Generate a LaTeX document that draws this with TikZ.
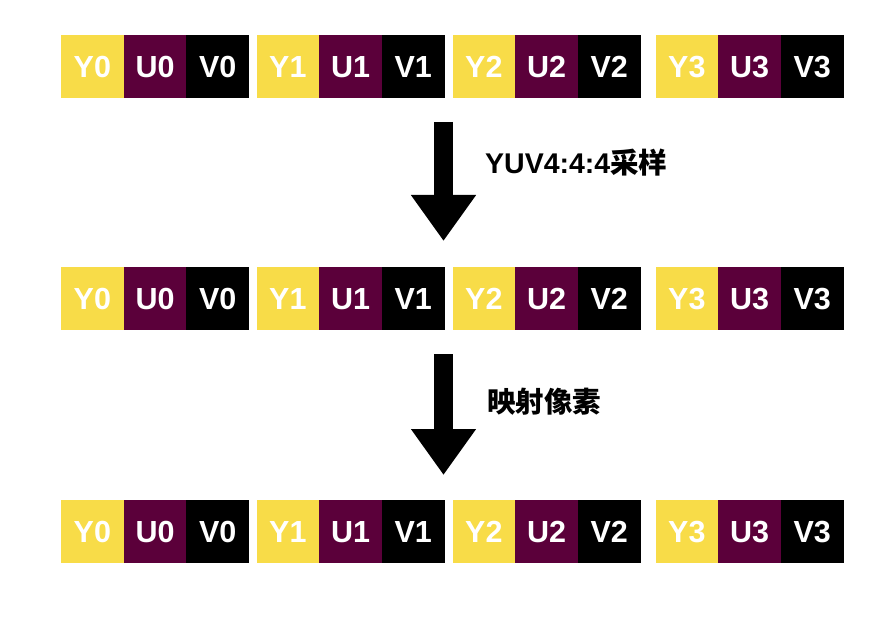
\documentclass[tikz,border=0pt]{standalone}
\usepackage{fontspec}
\setmainfont{Liberation Sans}
\newfontfamily\cjk{Noto Sans CJK SC}
\usetikzlibrary{arrows.meta}
\definecolor{ycol}{HTML}{F8DC48}
\definecolor{ucol}{HTML}{5B003A}
\definecolor{vcol}{HTML}{000000}
\tikzset{
  cell/.style={anchor=north west, minimum width=62.7pt, minimum height=63pt, inner sep=0pt, outer sep=0pt,
    text=white, font=\fontsize{30.5}{32}\selectfont\bfseries, text height=22pt, text depth=0pt},
  ycell/.style={cell, fill=ycol},
  ucell/.style={cell, fill=ucol},
  vcell/.style={cell, fill=vcol},
  bigarrow/.style={line width=19pt, -{Triangle[width=62pt,length=46pt]}},
  lbl/.style={anchor=west, inner sep=0pt, font=\fontsize{28.5}{30}\selectfont\bfseries}
}
\begin{document}
\begin{tikzpicture}[x=1pt,y=-1pt]
\useasboundingbox (0,0) rectangle (890,636);
\foreach \r/\ty in {1/35,2/267,3/500}{
  \foreach \g/\gx in {0/61,1/256.5,2/452.5,3/655.5}{
    \node[ycell] (y\g r\r) at (\gx,\ty) {Y\g};
    \node[ucell] (u\g r\r) at (\gx+62.67,\ty) {U\g};
    \node[vcell] (v\g r\r) at (\gx+125.33,\ty) {V\g};
  }
}
\coordinate (a1s) at (443.5,122);
\coordinate (a1e) at (443.5,241);
\coordinate (a2s) at (443.5,354);
\coordinate (a2e) at (443.5,475);
\draw[bigarrow] (a1s) -- (a1e);
\draw[bigarrow] (a2s) -- (a2e);
\node[lbl] (l1) at (485,163) {YUV4:4:4{\cjk 采样}};
\node[lbl] (l2) at (487,402) {\cjk 映射像素};
\end{tikzpicture}
\end{document}
